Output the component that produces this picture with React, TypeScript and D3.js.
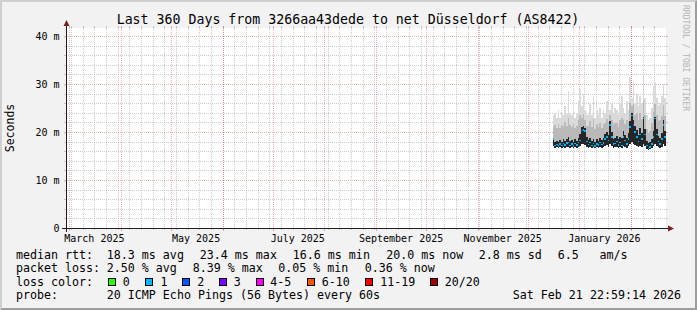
import React from 'react';
import * as d3 from 'd3';

// ---------- data ----------
const titleText = 'Last 360 Days from 3266aa43dede to net Düsseldorf (AS8422)';
const yTickValues = [0, 10, 20, 30, 40];
const monthLabels = ['March 2025', 'May 2025', 'July 2025', 'September 2025', 'November 2025', 'January 2026'];
const monthLabelDates = [
  new Date(2025, 2, 1), new Date(2025, 4, 1), new Date(2025, 6, 1),
  new Date(2025, 8, 1), new Date(2025, 10, 1), new Date(2026, 0, 1),
];
const dataStart = new Date(2025, 11, 16);
const dataEnd = new Date(2026, 1, 22);

const medianMs = [
  18.5, 17.2, 17.4, 17.1, 17.5, 17.2, 17.6, 17.3, 17.7, 17.8,
  17.2, 17.5, 17.1, 17.6, 17.3, 17.8, 18.2, 20.3, 20.4, 20.2,
  18.0, 17.4, 17.8, 17.2, 17.6, 17.1, 17.5, 17.3, 17.8, 17.4,
  17.7, 18.5, 19.0, 18.2, 21.5, 19.0, 17.5, 17.6, 18.0, 17.3,
  17.8, 17.2, 19.0, 18.2, 17.5, 18.5, 21.0, 23.4, 21.5, 20.0,
  19.0, 18.0, 19.5, 18.5, 22.8, 19.5, 17.2, 16.6, 16.9, 17.5,
  19.0, 22.8, 19.5, 18.0, 17.5, 18.5, 21.5, 19.0,
];
const minMs = [
  17.0, 16.7, 16.8, 16.6, 16.8, 16.7, 16.9, 16.7, 16.8, 16.8,
  16.6, 16.8, 16.6, 16.9, 16.7, 16.8, 17.0, 17.4, 17.6, 17.3,
  16.9, 16.7, 16.8, 16.6, 16.8, 16.6, 16.8, 16.7, 16.9, 16.7,
  16.8, 17.0, 17.2, 16.9, 17.6, 17.1, 16.7, 16.8, 16.9, 16.6,
  16.8, 16.6, 17.1, 16.9, 16.7, 17.0, 17.4, 18.0, 17.5, 17.2,
  17.0, 16.8, 17.1, 16.9, 17.5, 17.0, 16.5, 16.3, 16.4, 16.7,
  17.0, 17.6, 17.1, 16.8, 16.7, 16.9, 17.4, 17.0,
];
const p75Ms = [
  18.8, 18.0, 18.2, 18.0, 18.3, 18.0, 18.5, 18.2, 18.6, 18.9,
  18.2, 18.4, 18.0, 18.5, 18.2, 18.8, 19.5, 21.0, 21.2, 20.8,
  19.0, 18.4, 18.8, 18.2, 18.6, 18.0, 18.5, 18.2, 18.8, 18.4,
  18.8, 19.5, 20.0, 19.3, 22.3, 20.0, 18.6, 18.8, 19.2, 18.5,
  19.0, 18.7, 20.2, 19.4, 18.8, 19.8, 22.3, 24.0, 22.6, 21.2,
  20.4, 19.3, 20.8, 19.8, 23.2, 20.6, 18.2, 17.8, 18.0, 18.6,
  20.2, 23.2, 20.6, 19.2, 18.8, 19.8, 22.6, 20.2,
];
const p90Ms = [
  21.0, 21.5, 20.8, 21.6, 20.9, 21.4, 21.0, 22.0, 21.3, 23.0,
  21.4, 21.0, 21.6, 20.8, 21.3, 22.4, 23.5, 23.0, 23.8, 22.6,
  21.2, 21.3, 22.2, 21.0, 22.8, 20.7, 21.6, 21.0, 21.8, 20.8,
  21.6, 21.8, 22.8, 22.0, 23.5, 22.6, 21.4, 21.8, 21.8, 21.0,
  22.4, 23.0, 22.4, 21.6, 22.6, 22.0, 26.0, 25.5, 25.8, 23.6,
  24.0, 22.6, 24.0, 22.8, 26.5, 23.5, 20.6, 19.8, 20.2, 21.8,
  24.2, 25.8, 23.6, 22.2, 22.4, 23.4, 25.6, 23.4,
];
const maxMs = [
  23.5, 24.0, 23.0, 24.5, 23.0, 24.0, 23.5, 25.5, 24.0, 28.5,
  24.0, 23.5, 24.5, 23.0, 24.0, 26.5, 29.0, 25.5, 28.0, 24.5,
  23.5, 24.0, 26.0, 23.5, 27.5, 23.0, 24.5, 23.5, 25.0, 23.0,
  24.5, 24.0, 26.5, 25.0, 24.5, 26.0, 24.0, 25.0, 24.5, 23.5,
  26.0, 27.5, 25.0, 24.0, 26.5, 24.5, 31.5, 27.0, 30.5, 26.0,
  28.0, 25.5, 27.5, 26.0, 31.5, 27.0, 23.5, 22.5, 23.0, 25.0,
  29.5, 30.5, 27.0, 25.5, 26.0, 27.5, 30.0, 27.0,
];
const lossBucket = [
  1, 1, 1, 1, 1, 1, 1, 1, 1, 1,
  1, 1, 1, 1, 1, 1, 1, 2, 1, 1,
  1, 1, 1, 1, 1, 1, 1, 1, 1, 1,
  1, 1, 1, 1, 1, 1, 1, 1, 1, 1,
  1, 1, 1, 1, 1, 1, 1, 1, 2, 1,
  1, 1, 1, 1, 1, 1, 1, 1, 1, 1,
  1, 1, 1, 1, 1, 1, 1, 1,
];

const lossLabels = ['0', '1', '2', '3', '4-5', '6-10', '11-19', '20/20'];
const lossColors = ['#26ff00', '#00b8ff', '#0059ff', '#7e00ff', '#ff00ff', '#ff5500', '#ff0000', '#a10000'];

const rttLegend = ['median rtt:', '18.3 ms avg', '23.4 ms max', '16.6 ms min', '20.0 ms now', '2.8 ms sd', '6.5', 'am/s'];
const lossLegend = ['packet loss:', '2.50 % avg', '8.39 % max', '0.05 % min', '0.36 % now'];
const probeLegend = ['probe:', '20 ICMP Echo Pings (56 Bytes) every 60s'];
const dateStamp = 'Sat Feb 21 22:59:14 2026';

// ---------- layout ----------
const W = 697, H = 310;
const X0 = 66, XSIZE = 600, Y0 = 228, YSIZE = 200;
const endTime = new Date(2026, 1, 21, 22, 59, 14);
const startTime = new Date(endTime.getTime() - 360 * 86400000);
const FONT = '"DejaVu Sans Mono", monospace';

const rttX = [16, 106.8, 199.8, 292.8, 386.2, 478.8, 557.8, 599.5];
const lossX = [16, 106.8, 192.8, 278.2, 364.8];
const boxX = [108.5, 145.5, 182.5, 219.5, 256, 307.5, 365.5, 430.5];
const boxLabelX = [122.8, 160.5, 197.2, 233.8, 270.2, 321.8, 380.2, 444.8];

export default function App() {
  const x = d3.scaleTime().domain([startTime, endTime]).range([X0, X0 + XSIZE]);
  const y = d3.scaleLinear().domain([0, YSIZE / 4.8]).range([Y0, Y0 - YSIZE]);

  const days = d3.timeDay.range(dataStart, dataEnd);
  const pts = days.map((d, i) => ({ d, i }));
  const withEnd = [...pts, { d: dataEnd, i: days.length - 1 }];

  const band = (top: number[]) =>
    d3.area<{ d: Date; i: number }>()
      .curve(d3.curveStepAfter)
      .x((p) => x(p.d))
      .y0((p) => y(minMs[p.i]))
      .y1((p) => y(top[p.i]))(withEnd) || '';

  const minorT = d3.timeSunday.range(startTime, endTime);
  const majorT = d3.timeMonth.range(startTime, endTime);
  const minorY = d3.range(0, 42, 2).filter((v) => v % 10 !== 0);
  const px = (t: Date) => Math.round(x(t)) + 0.5;
  const py = (v: number) => Math.round(y(v)) + 0.5;

  const gridCol = 'rgba(143,143,143,0.45)';
  const mgridCol = 'rgba(222,79,79,0.45)';

  return (
    <svg width={W} height={H} style={{ position: 'absolute', left: 0, top: 0, display: 'block' }}
      xmlns="http://www.w3.org/2000/svg">
      <defs>
        <clipPath id="plot"><rect x={X0} y={Y0 - YSIZE} width={XSIZE + 1} height={YSIZE} /></clipPath>
      </defs>
      <rect x={0} y={0} width={W} height={H} fill="#f2f2f2" />
      <polygon points={`0,${H} 2,${H - 2} 2,2 ${W - 2},2 ${W},0 0,0`} fill="#cfcfcf" />
      <polygon points={`2,${H - 2} ${W - 2},${H - 2} ${W - 2},2 ${W},0 ${W},${H} 0,${H}`} fill="#9e9e9e" />
      <rect x={X0} y={Y0 - YSIZE} width={XSIZE} height={YSIZE} fill="#ffffff" />

      <text x={348} y={23.5} textAnchor="middle" fontFamily={FONT} fontSize={13.25} fill="#000">{titleText}</text>

      {/* minor grid */}
      <g shapeRendering="crispEdges">
        {minorT.map((t, i) => (
          <g key={'mv' + i}>
            <line x1={px(t)} x2={px(t)} y1={Y0 - YSIZE - 2} y2={Y0 - YSIZE} stroke={gridCol} />
            <line x1={px(t)} x2={px(t)} y1={Y0} y2={Y0 + 2} stroke={gridCol} />
            <line x1={px(t)} x2={px(t)} y1={Y0 - YSIZE} y2={Y0} stroke={gridCol} strokeDasharray="1,1" />
          </g>
        ))}
        {minorY.map((v, i) => (
          <g key={'mh' + i}>
            <line x1={X0 - 2} x2={X0} y1={py(v)} y2={py(v)} stroke={gridCol} />
            <line x1={X0 + XSIZE} x2={X0 + XSIZE + 2} y1={py(v)} y2={py(v)} stroke={gridCol} />
            <line x1={X0} x2={X0 + XSIZE} y1={py(v)} y2={py(v)} stroke={gridCol} strokeDasharray="1,1" />
          </g>
        ))}
        {majorT.map((t, i) => (
          <g key={'Mv' + i}>
            <line x1={px(t)} x2={px(t)} y1={Y0 - YSIZE - 2} y2={Y0 - YSIZE} stroke={mgridCol} />
            <line x1={px(t)} x2={px(t)} y1={Y0} y2={Y0 + 3} stroke={mgridCol} />
            <line x1={px(t)} x2={px(t)} y1={Y0 - YSIZE} y2={Y0} stroke={mgridCol} strokeDasharray="1,1" />
          </g>
        ))}
        {yTickValues.map((v, i) => (
          <g key={'Mh' + i}>
            <line x1={X0 - 2} x2={X0} y1={py(v)} y2={py(v)} stroke={mgridCol} />
            <line x1={X0 + XSIZE} x2={X0 + XSIZE + 2} y1={py(v)} y2={py(v)} stroke={mgridCol} />
            <line x1={X0} x2={X0 + XSIZE} y1={py(v)} y2={py(v)} stroke={mgridCol} strokeDasharray="1,1" />
          </g>
        ))}
      </g>

      {/* smoke */}
      <g clipPath="url(#plot)" shapeRendering="crispEdges">
        <path d={band(maxMs)} fill="#dadada" />
        <path d={band(p90Ms)} fill="#b9b9b9" />
        <path d={band(p75Ms)} fill="#262626" />
        {pts.map((p, i) => (
          <line key={'md' + i} x1={x(p.d)} x2={x(i + 1 < days.length ? days[i + 1] : dataEnd)}
            y1={y(medianMs[i])} y2={y(medianMs[i])} stroke={lossColors[lossBucket[i]]} strokeWidth={1.5} />
        ))}
      </g>

      {/* axes */}
      <g shapeRendering="crispEdges">
        <line x1={X0 - 4} x2={X0 + XSIZE + 4} y1={Y0 + 0.5} y2={Y0 + 0.5} stroke="#1f1f1f" />
        <line x1={X0 + 0.5} x2={X0 + 0.5} y1={Y0 + 4} y2={Y0 - YSIZE - 4} stroke="#1f1f1f" />
      </g>
      <polygon points={`${X0 + XSIZE + 2},${Y0 - 3 + 0.5} ${X0 + XSIZE + 2},${Y0 + 3 + 0.5} ${X0 + XSIZE + 8},${Y0 + 0.5}`} fill="#801f1f" />
      <polygon points={`${X0 - 3 + 0.5},${Y0 - YSIZE - 2} ${X0 + 3 + 0.5},${Y0 - YSIZE - 2} ${X0 + 0.5},${Y0 - YSIZE - 8}`} fill="#801f1f" />

      {/* y labels */}
      {yTickValues.map((v, i) => (
        <text key={'yl' + i} x={59.5} y={y(v) + 3.8} textAnchor="end" fontFamily={FONT} fontSize={10} fill="#000">
          {v === 0 ? '0' : `${v} m`}
        </text>
      ))}
      <text transform={`translate(14,128) rotate(-90)`} textAnchor="middle" fontFamily={FONT} fontSize={11.5} fill="#000">Seconds</text>

      {/* x labels */}
      {monthLabels.map((s, i) => (
        <text key={'xl' + i} x={x(d3.timeDay.offset(monthLabelDates[i], 15))} y={241.5} textAnchor="middle"
          fontFamily={FONT} fontSize={10} fill="#000">{s}</text>
      ))}

      {/* watermark */}
      <text transform="translate(683,5) rotate(90)" fontFamily={FONT} fontSize={8} fill="#b4b4b4">RRDTOOL / TOBI OETIKER</text>

      {/* legend */}
      <g fontFamily={FONT} fontSize={11.65} fill="#000">
        {rttLegend.map((s, i) => <text key={'r' + i} x={rttX[i]} y={258.5} style={{ whiteSpace: 'pre' }}>{s}</text>)}
        {lossLegend.map((s, i) => <text key={'l' + i} x={lossX[i]} y={272} style={{ whiteSpace: 'pre' }}>{s}</text>)}
        <text x={16} y={285.5}>loss color:</text>
        {lossLabels.map((s, i) => (
          <g key={'b' + i}>
            <rect x={boxX[i]} y={278.5} width={7} height={7} fill={lossColors[i]} stroke="#000" strokeWidth={1} shapeRendering="crispEdges" />
            <text x={boxLabelX[i]} y={285.5}>{s}</text>
          </g>
        ))}
        <text x={16} y={299}>{probeLegend[0]}</text>
        <text x={106.8} y={299}>{probeLegend[1]}</text>
        <text x={681} y={299} textAnchor="end">{dateStamp}</text>
      </g>
    </svg>
  );
}
